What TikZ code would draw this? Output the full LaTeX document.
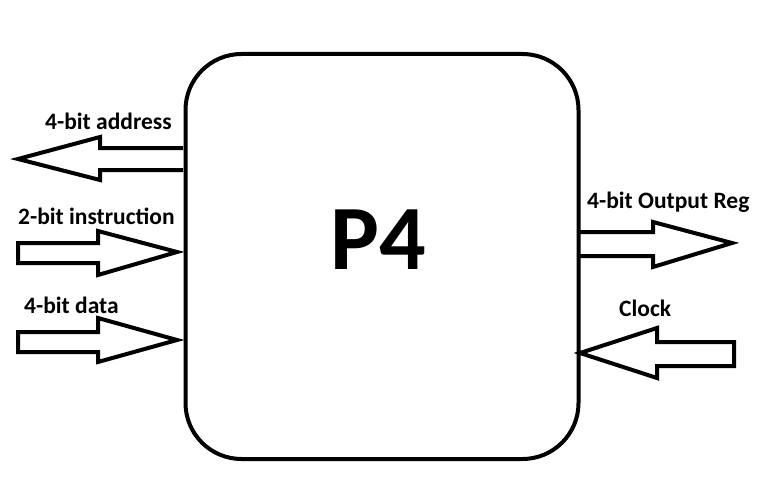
\documentclass[tikz,border=0pt]{standalone}
\usepackage{fontspec}
\setmainfont{Carlito}
\begin{document}
\begin{tikzpicture}[x=1pt,y=-1pt,
  blk/.style={draw=black,line width=4pt,line join=miter},
  lbl/.style={font=\bfseries\fontsize{23.5}{26}\selectfont,inner sep=0pt}]
\useasboundingbox (0,0) rectangle (776,500);
% address (out, pointing left)
\draw[blk] (183,148) -- (100,148) -- (100,137) -- (18,159) -- (100,180) -- (100,170) -- (183,170);
% instruction (in)
\draw[blk] (18,243) -- (98,243) -- (98,231) -- (177,252) -- (98,275) -- (98,263) -- (18,263) -- cycle;
% data (in)
\draw[blk] (18,332) -- (98,332) -- (98,318) -- (177,340) -- (98,362) -- (98,352) -- (18,352) -- cycle;
% output reg (out)
\draw[blk] (577,232) -- (653,232) -- (653,222) -- (732,243) -- (653,267) -- (653,256) -- (577,256);
% clock (in)
\draw[blk] (734,342) -- (657,342) -- (657,328) -- (580,353) -- (657,378) -- (657,366) -- (734,366) -- cycle;
% main box
\node[draw,line width=4pt,rounded corners=56pt,minimum width=393pt,minimum height=405pt,inner sep=0pt,anchor=north west] (cpu) at (183.5,52) {};
\node[font=\bfseries\fontsize{92}{100}\selectfont,inner sep=0pt] (p4) at (378,240) {P4};
% labels
\node[lbl,anchor=west] (la) at (45,121) {4-bit address};
\node[lbl,anchor=west] (li) at (18,216) {2-bit instruction};
\node[lbl,anchor=west] (ld) at (24,305) {4-bit data};
\node[lbl,anchor=west] (lo) at (587,202) {4-bit Output Reg};
\node[lbl,anchor=west] (lc) at (619,308) {Clock};
\end{tikzpicture}
\end{document}
